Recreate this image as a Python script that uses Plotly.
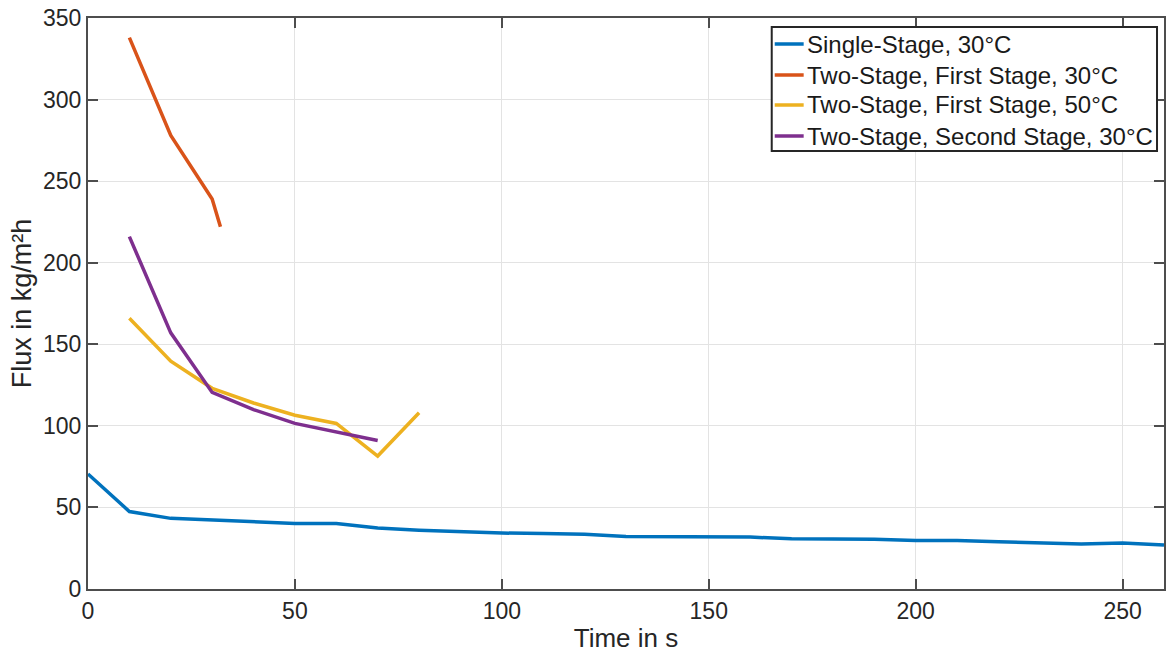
import plotly.graph_objects as go

# Flux over time for single- and two-stage operation
t_single = [0, 10, 20, 30, 40, 50, 60, 70, 80, 90, 100, 110, 120, 130, 140, 150,
            160, 170, 180, 190, 200, 210, 220, 230, 240, 250, 260]
flux_single = [70.5, 47.5, 43.3, 42.3, 41.2, 40.2, 40.2, 37.4, 36.0, 35.0, 34.3, 34.0,
               33.5, 32.2, 32.0, 31.8, 31.8, 30.8, 30.8, 30.5, 29.7, 29.7, 29.0, 28.5,
               27.6, 28.2, 27.0]

t_first_30 = [10, 20, 30, 32]
flux_first_30 = [338, 278, 239, 222]

t_first_50 = [10, 20, 30, 40, 50, 60, 70, 80]
flux_first_50 = [166, 139.7, 123, 114, 106.5, 101.5, 81.5, 108]

t_second_30 = [10, 20, 30, 40, 50, 60, 70]
flux_second_30 = [216, 157, 120.5, 110, 101.5, 96.5, 91]

series_names = [
    "Single-Stage, 30°C",
    "Two-Stage, First Stage, 30°C",
    "Two-Stage, First Stage, 50°C",
    "Two-Stage, Second Stage, 30°C",
]
series_colors = ["#0072BD", "#D95319", "#EDB120", "#7E2F8E"]

x_ticks = [0, 50, 100, 150, 200, 250]
y_ticks = [0, 50, 100, 150, 200, 250, 300, 350]

FONT = "Liberation Sans, Arial, Helvetica, sans-serif"
AXIS_COLOR = "#4d4d4d"
TEXT_COLOR = "#262626"

W, H = 1169, 657
M_L, M_R, M_T, M_B = 88, 3, 18, 68
PLOT_W = W - M_L - M_R
PLOT_H = H - M_T - M_B


def px_x(px):
    return (px - M_L) / PLOT_W


def px_y(py):
    return (H - M_B - py) / PLOT_H


fig = go.Figure()
for (tx, fy), name, color in zip(
    [(t_single, flux_single), (t_first_30, flux_first_30),
     (t_first_50, flux_first_50), (t_second_30, flux_second_30)],
    series_names, series_colors,
):
    fig.add_trace(go.Scatter(x=tx, y=fy, mode="lines", name=name,
                             line=dict(color=color, width=3.5), showlegend=False))

axis_common = dict(
    showline=True, linecolor=AXIS_COLOR, linewidth=2, mirror="ticks",
    ticks="inside", ticklen=10, tickwidth=2, tickcolor=AXIS_COLOR,
    showgrid=True, gridcolor="#e3e3e3", gridwidth=1,
    zeroline=False,
    tickfont=dict(family=FONT, size=23, color=TEXT_COLOR),
)

fig.update_xaxes(range=[0, 260], tickvals=x_ticks,
                 title=dict(text="Time in s", font=dict(family=FONT, size=26, color=TEXT_COLOR),
                            standoff=6),
                 **axis_common)
fig.update_yaxes(range=[0, 350], tickvals=y_ticks,
                 title=dict(text="Flux in kg/m²h", font=dict(family=FONT, size=27, color=TEXT_COLOR),
                            standoff=4),
                 **axis_common)

# Boxed legend in the upper right of the axes
box_l, box_r, box_t, box_b = 773, 1159, 27, 151
row_y = [44, 75, 105, 136]
shapes = [dict(type="rect", xref="paper", yref="paper",
               x0=px_x(box_l), x1=px_x(box_r), y0=px_y(box_b), y1=px_y(box_t),
               line=dict(color=TEXT_COLOR, width=2), fillcolor="white", layer="above")]
annotations = []
for name, color, ry in zip(series_names, series_colors, row_y):
    shapes.append(dict(type="line", xref="paper", yref="paper",
                       x0=px_x(776), x1=px_x(805), y0=px_y(ry), y1=px_y(ry),
                       line=dict(color=color, width=3.5), layer="above"))
    annotations.append(dict(xref="paper", yref="paper", x=px_x(806), y=px_y(ry),
                            xanchor="left", yanchor="middle", showarrow=False,
                            text=name, font=dict(family=FONT, size=24, color="#1a1a1a")))

fig.update_layout(
    width=W, height=H,
    margin=dict(l=M_L, r=M_R, t=M_T, b=M_B),
    plot_bgcolor="white", paper_bgcolor="white",
    font=dict(family=FONT, color=TEXT_COLOR),
    shapes=shapes, annotations=annotations,
    showlegend=False,
)

fig.write_html("out.html")
